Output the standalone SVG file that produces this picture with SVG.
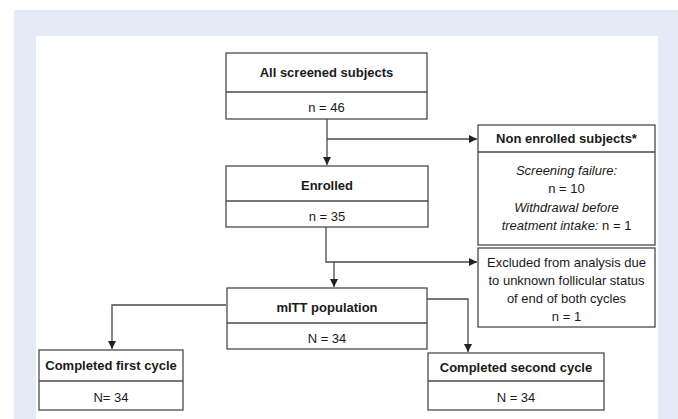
<svg xmlns="http://www.w3.org/2000/svg" width="678" height="419" viewBox="0 0 678 419">
<style>
.box{fill:#fff;stroke:#4a4a4a;stroke-width:1.3}
.div{stroke:#4a4a4a;stroke-width:1.3}
.t{font-family:"Liberation Sans",Arial,sans-serif;font-size:13px;fill:#1a1a1a;text-anchor:middle}
.b{font-weight:bold}
.i{font-style:italic}
.c{fill:none;stroke:#4a4a4a;stroke-width:1.3}
</style>
<defs>
<marker id="ah" viewBox="0 0 10 10" refX="10" refY="5" markerWidth="8" markerHeight="8" markerUnits="userSpaceOnUse" orient="auto">
<path d="M0,0 L10,5 L0,10 Z" fill="#222"/>
</marker>
</defs>
<rect x="0" y="0" width="678" height="419" fill="#fff"/>
<rect x="14" y="10" width="664" height="409" fill="#e4eaf6"/>
<rect x="36" y="36" width="622" height="383" fill="#fff"/>

<g id="connectors">
<path class="c" d="M327,119 V165" marker-end="url(#ah)"/>
<path class="c" d="M327,139 H477" marker-end="url(#ah)"/>
<path class="c" d="M326,227 V262 H477" marker-end="url(#ah)"/>
<path class="c" d="M334,262 V287" marker-end="url(#ah)"/>
<path class="c" d="M226,305 H112 V349" marker-end="url(#ah)"/>
<path class="c" d="M427,299 H468 V352" marker-end="url(#ah)"/>
</g>

<g id="screened">
<rect class="box" x="226" y="53" width="201" height="66"/>
<line class="div" x1="226" y1="92" x2="427" y2="92"/>
<text class="t b" x="326.5" y="77">All screened subjects</text>
<text class="t" x="326.5" y="112">n = 46</text>
</g>

<g id="enrolled">
<rect class="box" x="226" y="166" width="202" height="61"/>
<line class="div" x1="226" y1="201" x2="428" y2="201"/>
<text class="t b" x="327" y="190">Enrolled</text>
<text class="t" x="327" y="221">n = 35</text>
</g>

<g id="nonenrolled">
<rect class="box" x="478" y="125" width="177" height="120"/>
<line class="div" x1="478" y1="152" x2="655" y2="152"/>
<text class="t b" x="566.5" y="143">Non enrolled subjects*</text>
<text class="t i" x="566.5" y="174.5">Screening failure:</text>
<text class="t" x="566.5" y="192.5">n = 10</text>
<text class="t i" x="566.5" y="211.5">Withdrawal before</text>
<text class="t" x="566.5" y="229.5"><tspan class="i">treatment intake:</tspan> n = 1</text>
</g>

<g id="excluded">
<rect class="box" x="478" y="248" width="177" height="79"/>
<text class="t" x="566.5" y="266.5">Excluded from analysis due</text>
<text class="t" x="566.5" y="284.5">to unknown follicular status</text>
<text class="t" x="566.5" y="302.5">of end of both cycles</text>
<text class="t" x="566.5" y="320.5">n = 1</text>
</g>

<g id="mitt">
<rect class="box" x="227" y="288" width="200" height="61"/>
<line class="div" x1="227" y1="323" x2="427" y2="323"/>
<text class="t b" x="327" y="312">mITT population</text>
<text class="t" x="327" y="342.5">N = 34</text>
</g>

<g id="first">
<rect class="box" x="39" y="350" width="144" height="60"/>
<line class="div" x1="39" y1="381" x2="183" y2="381"/>
<text class="t b" x="111" y="370">Completed first cycle</text>
<text class="t" x="111" y="401.5">N= 34</text>
</g>

<g id="second">
<rect class="box" x="428" y="353" width="176" height="57"/>
<line class="div" x1="428" y1="381" x2="604" y2="381"/>
<text class="t b" x="516" y="371.5">Completed second cycle</text>
<text class="t" x="516" y="401.5">N = 34</text>
</g>
</svg>
